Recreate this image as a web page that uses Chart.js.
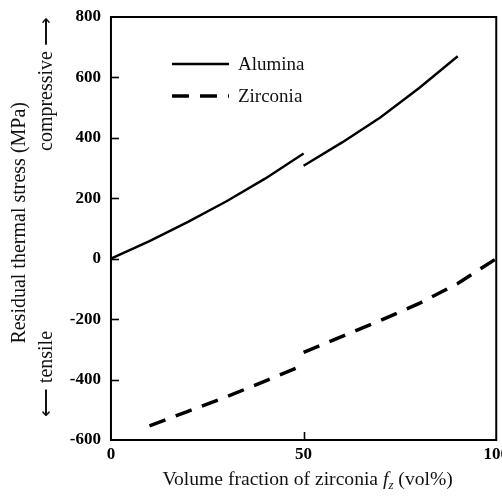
<!DOCTYPE html>
<html>
<head>
<meta charset="utf-8">
<script src="https://cdn.jsdelivr.net/npm/chart.js@4"></script>
<style>
  html, body { margin: 0; padding: 0; background: #fff; overflow: hidden; }
  #wrap { position: absolute; left: 0; top: 0; width: 513px; height: 497px; }
</style>
</head>
<body>
<div id="wrap"><canvas id="stressChart"></canvas></div>
<script>
// values (null = break in the curve at 50 vol%)
const aluminaX = [0, 10, 20, 30, 40, 50, 50, 50, 60, 70, 80, 90];
const aluminaY = [0, 58, 122, 190, 265, 348, null, 308, 385, 468, 565, 670];
const zirconiaX = [10, 20, 30, 40, 50, 50, 50, 60, 70, 80, 90, 100];
const zirconiaY = [-553, -505, -457, -405, -352, null, -310, -257, -204, -148, -82, 0];
const seriesNames = ["Alumina", "Zirconia"];

const serif = "'Liberation Serif', 'Times New Roman', serif";

function toPoints(xs, ys) {
  return xs.map((x, i) => ({ x: x, y: ys[i] }));
}

// inward tick marks, box frame, legend and the x title (with italic f_z)
const decorations = {
  id: 'decorations',
  afterDraw(chart) {
    const ctx = chart.ctx;
    const a = chart.chartArea;
    const xs = chart.scales.x, ys = chart.scales.y;
    ctx.save();
    ctx.strokeStyle = '#000';
    ctx.lineWidth = 1.6;
    ys.ticks.forEach(t => {
      if (t.value === ys.min || t.value === ys.max) return;
      const py = Math.round(ys.getPixelForValue(t.value)) + 0.5;
      ctx.beginPath(); ctx.moveTo(a.left, py); ctx.lineTo(a.left + 8, py); ctx.stroke();
    });
    xs.ticks.forEach(t => {
      if (t.value === xs.min || t.value === xs.max) return;
      const px = Math.round(xs.getPixelForValue(t.value)) + 0.5;
      ctx.beginPath(); ctx.moveTo(px, a.bottom); ctx.lineTo(px, a.bottom - 8); ctx.stroke();
    });
    ctx.lineWidth = 2;
    ctx.strokeRect(a.left, a.top, a.right - a.left, a.bottom - a.top);

    // legend
    const ds = chart.data.datasets;
    const lx = a.left + 61;
    [a.top + 47, a.top + 79].forEach((ly, i) => {
      ctx.beginPath();
      ctx.lineWidth = ds[i].borderWidth;
      ctx.setLineDash(ds[i].borderDash || []);
      ctx.moveTo(lx, ly); ctx.lineTo(lx + 57, ly); ctx.stroke();
      ctx.setLineDash([]);
      ctx.fillStyle = '#111';
      ctx.font = '19px ' + serif;
      ctx.textBaseline = 'middle';
      ctx.fillText(seriesNames[i], lx + 66, ly + 1);
    });

    // x axis title
    const parts = [
      { t: 'Volume fraction of zirconia ', f: '19.6px ' + serif, dy: 0 },
      { t: 'f', f: 'italic 19.6px ' + serif, dy: 0 },
      { t: 'z', f: 'italic 13px ' + serif, dy: 4 },
      { t: ' (vol%)', f: '19.6px ' + serif, dy: 0 }
    ];
    let total = 0;
    parts.forEach(p => { ctx.font = p.f; p.w = ctx.measureText(p.t).width; total += p.w; });
    let cx = (a.left + a.right) / 2 + 4 - total / 2;
    const by = a.bottom + 45;
    ctx.textBaseline = 'alphabetic';
    parts.forEach(p => {
      ctx.font = p.f;
      ctx.fillText(p.t, cx, by + p.dy);
      cx += p.w;
    });
    ctx.restore();
  }
};

new Chart(document.getElementById('stressChart'), {
  type: 'line',
  data: {
    datasets: [
      {
        label: seriesNames[0],
        data: toPoints(aluminaX, aluminaY),
        borderColor: '#000',
        borderWidth: 2.4,
        pointRadius: 0,
        tension: 0,
        spanGaps: false
      },
      {
        label: seriesNames[1],
        data: toPoints(zirconiaX, zirconiaY),
        borderColor: '#000',
        borderWidth: 3.5,
        borderDash: [17, 11],
        pointRadius: 0,
        tension: 0,
        spanGaps: false
      }
    ]
  },
  options: {
    responsive: true,
    maintainAspectRatio: false,
    animation: false,
    layout: { padding: { top: 17, right: 0, bottom: 28.6, left: 0 } },
    plugins: { legend: { display: false }, tooltip: { enabled: false } },
    scales: {
      x: {
        type: 'linear',
        min: 0,
        max: 100,
        grid: { display: false, drawTicks: false },
        border: { display: false },
        ticks: {
          stepSize: 50,
          maxRotation: 0,
          padding: 4,
          color: '#000',
          font: { family: serif, size: 17, weight: 'bold' }
        }
      },
      y: {
        min: -600,
        max: 800,
        grid: { display: false, drawTicks: false },
        border: { display: false },
        ticks: {
          stepSize: 200,
          padding: 10,
          color: '#000',
          font: { family: serif, size: 17, weight: 'bold', lineHeight: 0.8 }
        },
        title: {
          display: true,
          align: 'end',
          text: [
            'Residual thermal stress (MPa)' + ' '.repeat(17),
            '\u27F5 tensile' + ' '.repeat(36) + 'compressive \u27F6'
          ],
          color: '#111',
          font: { family: serif, size: 20, lineHeight: 1.35 },
          padding: { top: 6.5, bottom: -0.7 }
        }
      }
    }
  },
  plugins: [decorations]
});
</script>
</body>
</html>
